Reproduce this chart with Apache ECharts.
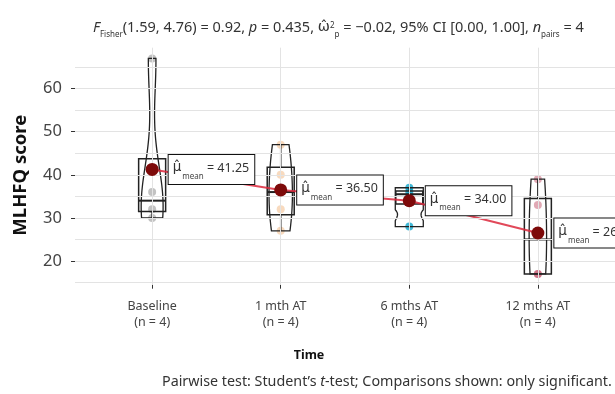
<!DOCTYPE html>
<html>
<head>
<meta charset="utf-8">
<script src="https://cdn.jsdelivr.net/npm/echarts@6/dist/echarts.min.js"></script>
<style>
  html, body { margin: 0; padding: 0; background: #fff; }
  #chart { width: 615px; height: 394px; }
</style>
</head>
<body>
<div id="chart"></div>
<script>
// MLHFQ scores per visit (paired, n = 4)
const categories = ['Baseline', '1 mth AT', '6 mths AT', '12 mths AT'];
const baselineScores = [30, 32, 36, 67];
const oneMonthScores = [27, 32, 40, 47];
const sixMonthScores = [28, 35, 36, 37];
const twelveMonthScores = [17, 17, 33, 39];
const yTicks = [20, 30, 40, 50, 60];
const yGrid = [15, 20, 25, 30, 35, 40, 45, 50, 55, 60, 65];
const pointColors = ['rgba(120,120,120,0.45)', 'rgba(236,150,70,0.35)', 'rgba(0,160,200,0.75)', 'rgba(180,40,70,0.4)'];

const groups = [baselineScores, oneMonthScores, sixMonthScores, twelveMonthScores];

// ---- summary statistics ----
function quantile(arr, p) {
  const s = arr.slice().sort((a, b) => a - b);
  const h = (s.length - 1) * p;
  const lo = Math.floor(h), hi = Math.ceil(h);
  return s[lo] + (h - lo) * (s[hi] - s[lo]);
}
function mean(arr) { return arr.reduce((a, b) => a + b, 0) / arr.length; }
function sd(arr) {
  const m = mean(arr);
  return Math.sqrt(arr.reduce((a, b) => a + (b - m) * (b - m), 0) / (arr.length - 1));
}
function boxStats(arr) {
  const q1 = quantile(arr, 0.25), med = quantile(arr, 0.5), q3 = quantile(arr, 0.75);
  const iqr = q3 - q1;
  const inLo = arr.filter(v => v >= q1 - 1.5 * iqr);
  const inHi = arr.filter(v => v <= q3 + 1.5 * iqr);
  const lo = Math.min(Math.min(...inLo), q1);
  const hi = Math.max(Math.max(...inHi), q3);
  return [lo, q1, med, q3, hi];
}
// Gaussian kernel density (nrd0 bandwidth, adjusted), trimmed to data range
function violinProfile(arr, adjust) {
  const iqr = quantile(arr, 0.75) - quantile(arr, 0.25);
  const bw = 0.9 * Math.min(sd(arr), iqr / 1.34) * Math.pow(arr.length, -0.2) * adjust;
  const lo = Math.min(...arr), hi = Math.max(...arr);
  const out = [];
  const steps = 80;
  for (let i = 0; i <= steps; i++) {
    const y = lo + (hi - lo) * i / steps;
    let d = 0;
    arr.forEach(v => { const z = (y - v) / bw; d += Math.exp(-0.5 * z * z); });
    d /= arr.length * bw * Math.sqrt(2 * Math.PI);
    out.push([y, d]);
  }
  return out;
}

const means = groups.map(mean);
const boxes = groups.map(boxStats);
const profiles = groups.map(g => violinProfile(g, 1.5));

const VIOLIN_SCALE = 710;   // px per density unit
const VIOLIN_MAX = 28;      // px, widest allowed violin
const BOX_W = 27;           // px

const pointData = [];
groups.forEach((g, i) => g.forEach(v => pointData.push({ value: [i + 1, v], itemStyle: { color: pointColors[i], opacity: 1 } })));
const meanData = means.map((m, i) => [i + 1, m]);

const chart = echarts.init(document.getElementById('chart'), null, { renderer: 'canvas' });
const FONT = 'Noto Sans';
const MATH = 'DejaVu Sans';
const base = { fontWeight: 'normal', fontFamily: FONT, color: '#333', verticalAlign: 'top' };
const norm = Object.assign({}, base, { fontSize: 14.5, lineHeight: 18 });
const ital = Object.assign({}, norm, { fontStyle: 'italic' });
const sub = Object.assign({}, base, { fontSize: 8, lineHeight: 9, padding: [11, 0, 0, 0] });
const capNorm = Object.assign({}, base, { fontSize: 14.3, lineHeight: 18 });
const capItal = Object.assign({}, capNorm, { fontStyle: 'italic' });

chart.setOption({
  animation: false,
  backgroundColor: '#fff',
  textStyle: { fontFamily: FONT },
  title: [
    {
      left: 88, top: 15,
      text: '{i|F}{s|Fisher}{n|(1.59, 4.76) = 0.92, }{i|p}{n| = 0.435, }{om|ω̂}{sup|2}{s|p}{n| = −0.02, 95% CI [0.00, 1.00], }{i|n}{s|pairs}{n| = 4}',
      textStyle: {
        fontWeight: 'normal',
        rich: {
          n: norm, i: ital, s: sub,
          om: Object.assign({}, norm, { fontSize: 14.5, fontFamily: MATH }),
          sup: Object.assign({}, base, { fontSize: 8, lineHeight: 9, padding: [2, 0, 0, 0] })
        }
      }
    },
    {
      left: 157, top: 370,
      text: '{n|Pairwise test: Student\u2019s }{i|t}{n|-test; Comparisons shown: only significant.}',
      textStyle: { fontWeight: 'normal', rich: { n: capNorm, i: capItal } }
    }
  ],
  grid: { left: 75, right: 0, top: 47.7, bottom: 109.3, containLabel: false },
  xAxis: {
    type: 'value', min: 0.4, max: 4.6,
    name: 'Time', nameLocation: 'middle', nameGap: 64,
    nameTextStyle: { fontSize: 12.5, fontWeight: 'bold', color: '#111', padding: [0, 72, 0, 0], fontFamily: FONT },
    axisLine: { show: false },
    axisTick: { show: true, length: 4, lineStyle: { color: '#333' }, customValues: [1, 2, 3, 4] },
    axisLabel: {
      customValues: [1, 2, 3, 4], margin: 14, color: '#444', fontSize: 12.5, lineHeight: 16, fontFamily: FONT,
      formatter: v => categories[v - 1] + '\n(n = ' + groups[v - 1].length + ')'
    },
    splitLine: { show: false }
  },
  yAxis: {
    type: 'value', min: 14.5, max: 69.5,
    name: 'MLHFQ score', nameLocation: 'middle', nameGap: 45,
    nameTextStyle: { fontSize: 18.5, fontWeight: 'bold', color: '#111', fontFamily: FONT, padding: [0, 18, 0, 0] },
    axisLine: { show: false },
    axisTick: { show: true, length: 4, lineStyle: { color: '#333' }, customValues: yTicks },
    axisLabel: { customValues: yTicks, margin: 13, color: '#444', fontSize: 16.5, fontFamily: FONT },
    splitLine: { show: false }
  },
  series: [
    {
      // panel grid lines
      type: 'scatter', data: [], silent: true, z: 0,
      markLine: {
        silent: true, symbol: 'none', label: { show: false },
        lineStyle: { color: '#e3e3e3', width: 1, type: 'solid' },
        data: yGrid.map(v => ({ yAxis: v })).concat([1, 2, 3, 4].map(v => ({ xAxis: v })))
      }
    },
    {
      // individual observations
      type: 'scatter', data: pointData, symbolSize: 8, z: 1, silent: true
    },
    {
      // violins
      type: 'custom', z: 2, silent: true,
      data: categories.map((c, i) => [i + 1]),
      renderItem: (params, api) => {
        const gi = params.dataIndex;
        const x = gi + 1;
        const prof = profiles[gi];
        const left = [], right = [];
        prof.forEach(([y, d]) => {
          const p = api.coord([x, y]);
          const hw = Math.min(d * VIOLIN_SCALE, VIOLIN_MAX) / 2;
          left.push([p[0] - hw, p[1]]);
          right.push([p[0] + hw, p[1]]);
        });
        const pts = left.concat(right.reverse());
        return {
          type: 'polygon',
          shape: { points: pts },
          style: { fill: 'none', stroke: '#222', lineWidth: 1.3 }
        };
      }
    },
    {
      // box plots
      type: 'custom', z: 3, silent: true,
      data: categories.map((c, i) => [i + 1]),
      renderItem: (params, api) => {
        const gi = params.dataIndex;
        const x = gi + 1;
        const [lo, q1, med, q3, hi] = boxes[gi];
        const cx = api.coord([x, q1])[0];
        const yq1 = api.coord([x, q1])[1], yq3 = api.coord([x, q3])[1];
        const ymed = api.coord([x, med])[1], ylo = api.coord([x, lo])[1], yhi = api.coord([x, hi])[1];
        const st = { stroke: '#222', lineWidth: 1.5, fill: 'none' };
        return {
          type: 'group',
          children: [
            { type: 'line', shape: { x1: cx, y1: yq3, x2: cx, y2: yhi }, style: st },
            { type: 'line', shape: { x1: cx, y1: yq1, x2: cx, y2: ylo }, style: st },
            { type: 'rect', shape: { x: cx - BOX_W / 2, y: yq3, width: BOX_W, height: yq1 - yq3 }, style: st },
            { type: 'line', shape: { x1: cx - BOX_W / 2, y1: ymed, x2: cx + BOX_W / 2, y2: ymed }, style: Object.assign({}, st, { lineWidth: 2 }) }
          ]
        };
      }
    },
    {
      // path of means
      type: 'line', data: meanData, symbol: 'none', z: 4, silent: true,
      lineStyle: { color: 'rgba(220,40,60,0.85)', width: 2 }
    },
    {
      // means with labels
      type: 'scatter', data: meanData, symbolSize: 13, z: 5, silent: true,
      itemStyle: { color: '#7d0a0a', opacity: 1 },
      label: {
        show: true, position: 'right', distance: 10,
        backgroundColor: '#fff', borderColor: '#111', borderWidth: 1,
        padding: [6, 5, 5, 4],
        formatter: p => '{mu|μ̂}{s|mean}{n| = ' + p.value[1].toFixed(2) + '}',
        rich: {
          mu: Object.assign({}, base, { fontSize: 13.5, lineHeight: 18, fontFamily: MATH }),
          s: Object.assign({}, base, { fontSize: 8, lineHeight: 8, padding: [12, 0, 0, 1], color: '#444' }),
          n: Object.assign({}, base, { fontSize: 12.5, lineHeight: 18, padding: [1, 0, 0, 0] })
        }
      }
    }
  ]
});
</script>
</body>
</html>
